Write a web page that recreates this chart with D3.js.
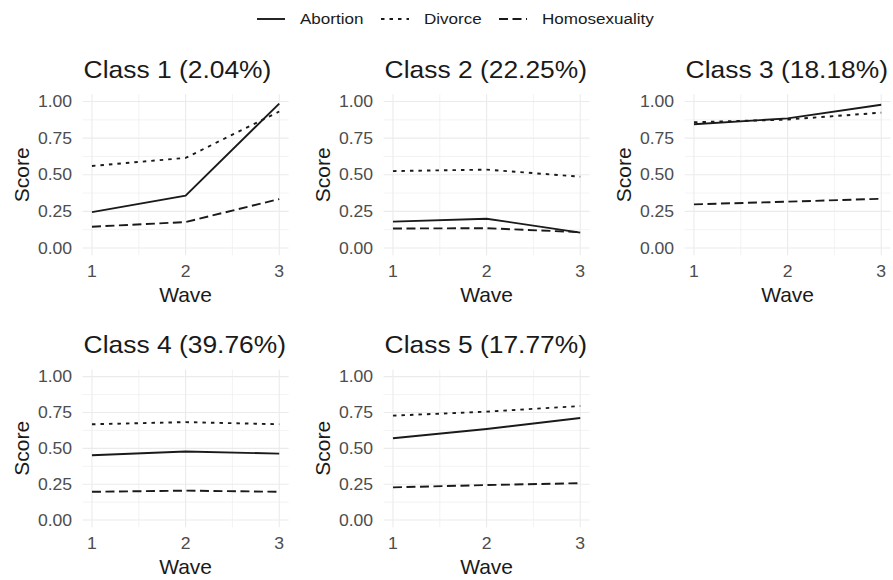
<!DOCTYPE html>
<html>
<head>
<meta charset="utf-8">
<script src="https://cdn.jsdelivr.net/npm/d3@7"></script>
<style>
  body { margin: 0; background: #fff; }
  text { font-family: "Liberation Sans", Arial, Helvetica, sans-serif; }
</style>
</head>
<body>
<div id="chart"></div>
<script>
// data
const waves = [1, 2, 3];
const classLabels = ['Class 1 (2.04%)', 'Class 2 (22.25%)', 'Class 3 (18.18%)', 'Class 4 (39.76%)', 'Class 5 (17.77%)'];
const seriesNames = ['Abortion', 'Divorce', 'Homosexuality'];
const abortion = [
  [0.245, 0.357, 0.986],
  [0.18, 0.20, 0.105],
  [0.845, 0.885, 0.978],
  [0.452, 0.478, 0.463],
  [0.57, 0.635, 0.712]
];
const divorce = [
  [0.56, 0.615, 0.932],
  [0.525, 0.535, 0.487],
  [0.858, 0.877, 0.924],
  [0.668, 0.683, 0.668],
  [0.728, 0.756, 0.795]
];
const homosexuality = [
  [0.145, 0.177, 0.334],
  [0.133, 0.135, 0.108],
  [0.298, 0.316, 0.336],
  [0.197, 0.205, 0.197],
  [0.228, 0.244, 0.257]
];
const yTicks = [0, 0.25, 0.5, 0.75, 1];
const yMinor = [0.125, 0.375, 0.625, 0.875];
const xMinor = [1.5, 2.5];

const width = 893, height = 580;
const dashes = { Abortion: null, Divorce: '3.5,5', Homosexuality: '9,4.5' };
const seriesData = { Abortion: abortion, Divorce: divorce, Homosexuality: homosexuality };
const stretch = 1.1; // reference text is a bit wider than Liberation Sans

const svg = d3.select('#chart').append('svg')
  .attr('width', width)
  .attr('height', height);

// text placed at (x, y) with a small horizontal stretch
function addText(parent, x, y, str, size) {
  return parent.append('text')
    .attr('transform', `translate(${x},${y}) scale(${stretch},1)`)
    .attr('font-size', size)
    .text(str);
}

// panel layout
const rows = [{ top: 94.2, bottom: 255.3 }, { top: 369.5, bottom: 527.2 }];
const colLeft = c => 82.6 + 301 * c;
const panelW = 206;

classLabels.forEach((label, i) => {
  const r = Math.floor(i / 3), c = i % 3;
  const left = colLeft(c);
  const { top, bottom } = rows[r];

  const x = d3.scaleLinear().domain([0.9, 3.1]).range([left, left + panelW]);
  const y = d3.scaleLinear().domain([-0.05, 1.05]).range([bottom, top]);

  const g = svg.append('g').attr('class', 'panel');

  // minor grid
  g.selectAll('.ymin').data(yMinor).enter().append('line')
    .attr('x1', left).attr('x2', left + panelW)
    .attr('y1', d => y(d)).attr('y2', d => y(d))
    .attr('stroke', '#ebebeb').attr('stroke-width', 0.6);
  g.selectAll('.xmin').data(xMinor).enter().append('line')
    .attr('x1', d => x(d)).attr('x2', d => x(d))
    .attr('y1', top).attr('y2', bottom)
    .attr('stroke', '#ebebeb').attr('stroke-width', 0.6);
  // major grid
  g.selectAll('.ymaj').data(yTicks).enter().append('line')
    .attr('x1', left).attr('x2', left + panelW)
    .attr('y1', d => y(d)).attr('y2', d => y(d))
    .attr('stroke', '#ebebeb').attr('stroke-width', 1.1);
  g.selectAll('.xmaj').data(waves).enter().append('line')
    .attr('x1', d => x(d)).attr('x2', d => x(d))
    .attr('y1', top).attr('y2', bottom)
    .attr('stroke', '#ebebeb').attr('stroke-width', 1.1);

  // lines
  const line = d3.line().x((d, j) => x(waves[j])).y(d => y(d));
  seriesNames.forEach(name => {
    g.append('path')
      .datum(seriesData[name][i])
      .attr('d', line)
      .attr('fill', 'none')
      .attr('stroke', '#1a1a1a')
      .attr('stroke-width', 1.9)
      .attr('stroke-dasharray', dashes[name]);
  });

  // tick labels
  yTicks.forEach(t => {
    addText(g, left - 10.5, y(t), d3.format('.2f')(t), 16)
      .attr('dy', '0.35em')
      .attr('text-anchor', 'end')
      .attr('fill', '#4d4d4d');
  });
  waves.forEach(w => {
    addText(g, x(w), bottom + 16, w, 16)
      .attr('dy', '0.35em')
      .attr('text-anchor', 'middle')
      .attr('fill', '#4d4d4d');
  });

  // axis titles
  g.append('text')
    .attr('x', left + panelW / 2)
    .attr('y', bottom + 47)
    .attr('text-anchor', 'middle')
    .attr('font-size', 21)
    .attr('fill', '#1a1a1a')
    .text('Wave');
  g.append('text')
    .attr('transform', `translate(${left - 54},${(top + bottom) / 2}) rotate(-90)`)
    .attr('text-anchor', 'middle')
    .attr('font-size', 21)
    .attr('fill', '#1a1a1a')
    .text('Score');

  // panel title
  addText(g, left + 1, top - 16.5, label, 24)
    .attr('fill', '#1a1a1a');
});

// legend
const legendX = [257, 381, 499];
const legend = svg.append('g').attr('class', 'legend');
seriesNames.forEach((name, k) => {
  const lx = legendX[k];
  legend.append('line')
    .attr('x1', lx).attr('x2', lx + 28)
    .attr('y1', 19).attr('y2', 19)
    .attr('stroke', '#1a1a1a').attr('stroke-width', 1.9)
    .attr('stroke-dasharray', dashes[name]);
  addText(legend, lx + 43, 19, name, 15.5)
    .attr('dy', '0.35em')
    .attr('fill', '#1a1a1a');
});
</script>
</body>
</html>
